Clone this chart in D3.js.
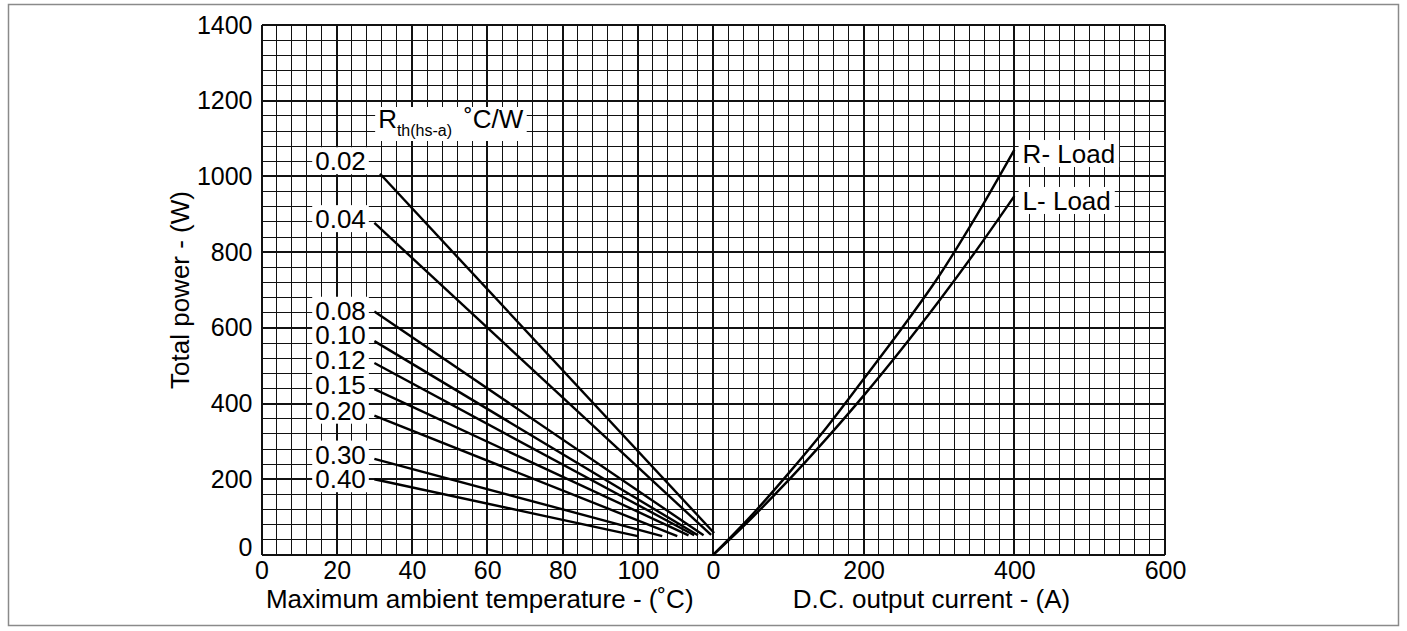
<!DOCTYPE html>
<html>
<head>
<meta charset="utf-8">
<script src="https://cdn.jsdelivr.net/npm/d3@7"></script>
<style>
body { margin: 0; background: #fff; }
svg text { font-family: "Liberation Sans", Arial, Helvetica, sans-serif; fill: #000; }
</style>
</head>
<body>
<svg width="1407" height="631"></svg>
<script>
// left panel: heatsink thermal resistance lines
const rthLabels = ['0.02', '0.04', '0.08', '0.10', '0.12', '0.15', '0.20', '0.30', '0.40']
const rthStartTemp = [31.5, 30, 30, 30, 30, 30, 30, 30, 30]
const rthStartPower = [1007, 877, 643, 565, 507, 438, 368, 254, 200]
const rthEndTemp = [120.3, 119.5, 117.5, 116, 115, 113.5, 110.5, 106.5, 100]
const rthEndPower = [58, 53, 52, 52, 52, 52, 50, 50, 50]
const rthLabelPower = [1041, 888, 646, 581, 515, 449, 382, 266, 201]

// right panel: power vs current
const current = [0, 50, 100, 150, 200, 250, 300, 350, 400]
const rLoad = [0, 102, 215, 335, 465, 597, 737, 897, 1070]
const lLoad = [0, 95, 197, 306, 421, 543, 671, 806, 948]

const tempTicks = [0, 20, 40, 60, 80, 100]
const currentTicks = [0, 200, 400, 600]
const powerTicks = [0, 200, 400, 600, 800, 1000, 1200, 1400]

const svg = d3.select('svg')
const fs = 26
const tickFs = 25

const xT = d3.scaleLinear().domain([0, 120]).range([261.5, 713])
const xI = d3.scaleLinear().domain([0, 600]).range([713, 1165])
const y = d3.scaleLinear().domain([0, 1400]).range([555, 25])

// outer frame
svg.append('rect')
    .attr('x', 8.5).attr('y', 4.5)
    .attr('width', 1390).attr('height', 621)
    .attr('fill', 'none')
    .attr('stroke', '#8a8a8a')
    .attr('stroke-width', 1.5)

// grid
const grid = svg.append('g').attr('shape-rendering', 'crispEdges').attr('stroke', '#111')

grid.selectAll('.vt')
    .data(d3.range(0, 121, 4))
    .join('line')
        .attr('x1', d => xT(d)).attr('x2', d => xT(d))
        .attr('y1', y(0)).attr('y2', y(1400))
        .attr('stroke-width', d => d % 20 === 0 ? 2 : 1)

grid.selectAll('.vi')
    .data(d3.range(20, 601, 20))
    .join('line')
        .attr('x1', d => xI(d)).attr('x2', d => xI(d))
        .attr('y1', y(0)).attr('y2', y(1400))
        .attr('stroke-width', d => d % 200 === 0 ? 2 : 1)

grid.selectAll('.h')
    .data(d3.range(0, 1401, 40))
    .join('line')
        .attr('x1', xT(0)).attr('x2', xI(600))
        .attr('y1', d => y(d)).attr('y2', d => y(d))
        .attr('stroke-width', d => d % 200 === 0 ? 2 : 1)

// axes
const styleAxis = g => {
    g.select('.domain').remove()
    g.selectAll('text').attr('font-size', tickFs).attr('font-family', null).attr('fill', '#000')
}

svg.append('g')
    .attr('transform', `translate(${xT(0)},0)`)
    .call(d3.axisLeft(y).tickValues(powerTicks).tickFormat(d3.format('d')).tickSize(0).tickPadding(9))
    .call(styleAxis)
    .call(g => g.selectAll('.tick text').filter(d => d === 0).attr('y', -8))

svg.append('g')
    .attr('transform', `translate(0,${y(0)})`)
    .call(d3.axisBottom(xT).tickValues(tempTicks).tickSize(0).tickPadding(6))
    .call(styleAxis)

svg.append('g')
    .attr('transform', `translate(0,${y(0)})`)
    .call(d3.axisBottom(xI).tickValues(currentTicks).tickSize(0).tickPadding(6))
    .call(styleAxis)

svg.append('text')
    .attr('transform', 'translate(189,290) rotate(-90)')
    .attr('text-anchor', 'middle')
    .attr('font-size', fs)
    .text('Total power - (W)')

svg.append('text')
    .attr('x', xT(58)).attr('y', 608)
    .attr('text-anchor', 'middle')
    .attr('font-size', fs)
    .text('Maximum ambient temperature - (˚C)')

svg.append('text')
    .attr('x', xI(290)).attr('y', 608)
    .attr('text-anchor', 'middle')
    .attr('font-size', fs)
    .text('D.C. output current - (A)')

// white boxes behind labels
const boxed = (sel, padX, padTop, padBottom) => {
    sel.each(function () {
        const bb = this.getBBox()
        d3.select(this.parentNode).insert('rect', () => this)
            .attr('x', bb.x - padX).attr('width', bb.width + 2 * padX)
            .attr('y', bb.y + padTop).attr('height', bb.height - padTop + padBottom)
            .attr('fill', '#fff')
    })
}

// Rth lines
const rth = rthLabels.map((label, i) => ({
    label,
    p0: [rthStartTemp[i], rthStartPower[i]],
    p1: [rthEndTemp[i], rthEndPower[i]],
    lp: rthLabelPower[i]
}))

const labels = svg.append('g')
labels.selectAll('text')
    .data(rth)
    .join('text')
        .attr('x', xT(21))
        .attr('y', d => y(d.lp) + 0.358 * fs)
        .attr('text-anchor', 'middle')
        .attr('font-size', fs)
        .text(d => d.label)
        .call(boxed, 3, 1, -2)

svg.append('g')
    .selectAll('line')
    .data(rth)
    .join('line')
        .attr('x1', d => xT(d.p0[0])).attr('y1', d => y(d.p0[1]))
        .attr('x2', d => xT(d.p1[0])).attr('y2', d => y(d.p1[1]))
        .attr('stroke', '#000')
        .attr('stroke-width', 2.4)

// header label
const head = svg.append('g')
const ht = head.append('text')
    .attr('x', xT(31)).attr('y', 128)
    .attr('font-size', fs)
ht.append('tspan').text('R')
ht.append('tspan').attr('font-size', 16).attr('dy', 8).text('th(hs-a)')
ht.append('tspan').attr('dy', -8).attr('dx', 12).text('˚C/W')
ht.call(boxed, 3, 3, 2)

// load curves
const line = d3.line()
    .x(d => xI(d[0]))
    .y(d => y(d[1]))
    .curve(d3.curveMonotoneX)

const loads = [
    { name: 'R- Load', values: current.map((c, i) => [c, rLoad[i]]), lp: 1060 },
    { name: 'L- Load', values: current.map((c, i) => [c, lLoad[i]]), lp: 936 }
]

svg.append('g')
    .selectAll('path')
    .data(loads)
    .join('path')
        .attr('d', d => line(d.values))
        .attr('fill', 'none')
        .attr('stroke', '#000')
        .attr('stroke-width', 2.4)

svg.append('g')
    .selectAll('text')
    .data(loads)
    .join('text')
        .attr('x', xI(411))
        .attr('y', d => y(d.lp) + 0.358 * fs)
        .attr('font-size', fs)
        .text(d => d.name)
        .call(boxed, 4, 1, -2)
</script>
</body>
</html>
